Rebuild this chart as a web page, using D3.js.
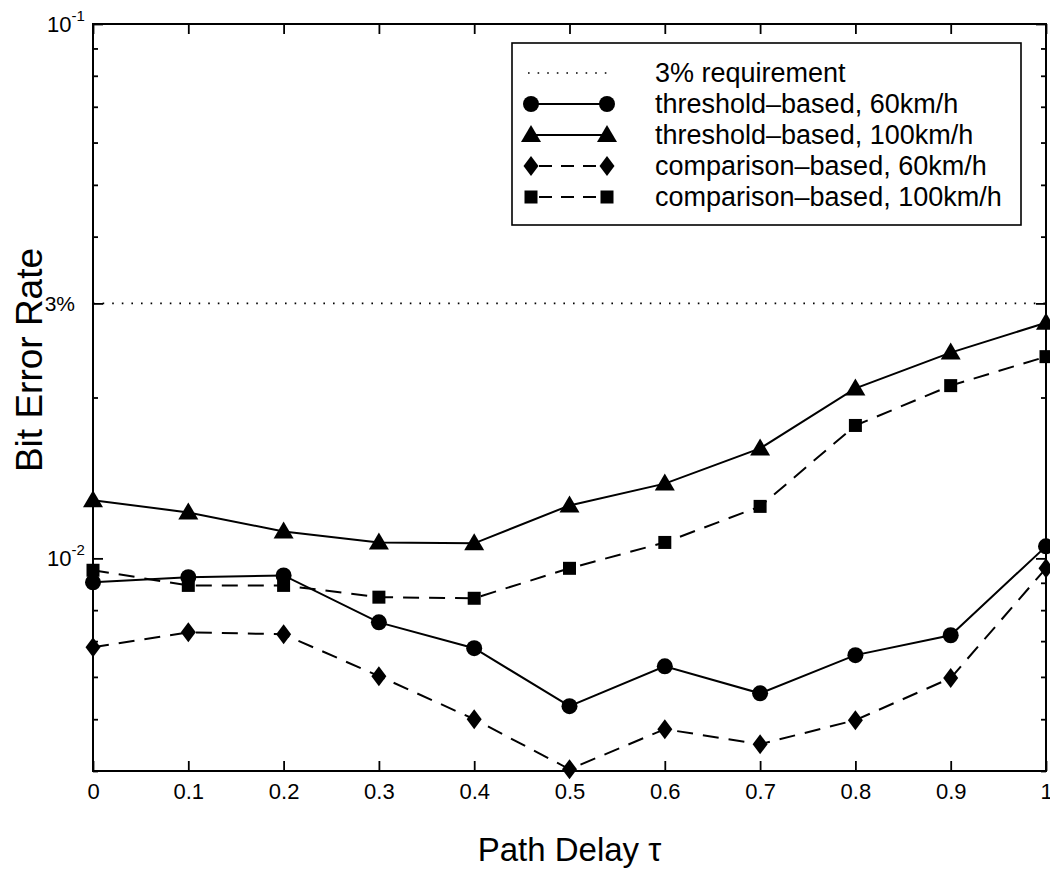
<!DOCTYPE html>
<html>
<head>
<meta charset="utf-8">
<script src="https://cdn.jsdelivr.net/npm/d3@7"></script>
<style>
  html, body { margin: 0; padding: 0; background: #fff; }
  svg { display: block; }
  text { font-family: "Liberation Sans", Arial, Helvetica, sans-serif; fill: #000; }
</style>
</head>
<body>
<svg id="chart" width="1050" height="869"></svg>
<script>
// ---- data ----
const delays = [0, 0.1, 0.2, 0.3, 0.4, 0.5, 0.6, 0.7, 0.8, 0.9, 1.0];
const threshold60  = [0.00902, 0.00922, 0.00929, 0.00759, 0.00679, 0.00529, 0.00628, 0.00559, 0.00659, 0.00718, 0.01053];
const threshold100 = [0.01285, 0.01219, 0.01123, 0.01071, 0.01067, 0.01256, 0.01380, 0.01606, 0.02080, 0.02427, 0.02760];
const comparison60 = [0.00682, 0.00727, 0.00721, 0.00602, 0.00500, 0.00403, 0.00479, 0.00449, 0.00498, 0.00597, 0.00958];
const comparison100= [0.00950, 0.00890, 0.00890, 0.00846, 0.00842, 0.00958, 0.01071, 0.01251, 0.01773, 0.02105, 0.02385];
const requirement = 0.03;
const xTicks = [0, 0.1, 0.2, 0.3, 0.4, 0.5, 0.6, 0.7, 0.8, 0.9, 1];
const xTickLabels = ["0", "0.1", "0.2", "0.3", "0.4", "0.5", "0.6", "0.7", "0.8", "0.9", "1"];
const yMinorTicks = [0.004, 0.005, 0.006, 0.007, 0.008, 0.009, 0.02, 0.04, 0.05, 0.06, 0.07, 0.08, 0.09];
const yMajorTicks = [0.01, 0.03, 0.1];
const legendLabels = ["3% requirement", "threshold\u2013based, 60km/h", "threshold\u2013based, 100km/h",
                      "comparison\u2013based, 60km/h", "comparison\u2013based, 100km/h"];

const series = [
  { name: legendLabels[1], values: threshold60,   marker: "circle",   dash: null },
  { name: legendLabels[2], values: threshold100,  marker: "triangle", dash: null },
  { name: legendLabels[3], values: comparison60,  marker: "diamond",  dash: "16,10" },
  { name: legendLabels[4], values: comparison100, marker: "square",   dash: "16,10" }
];

// ---- layout ----
const svg = d3.select("#chart");
const L = 93, R = 1046, T = 24, B = 771;
const x = d3.scaleLinear().domain([0, 1]).range([L, R]);
const y = d3.scaleLog().domain([0.004, 0.1]).range([B, T]);

// requirement dotted line
svg.append("line")
  .attr("x1", x(0)).attr("x2", x(1))
  .attr("y1", y(requirement)).attr("y2", y(requirement))
  .attr("stroke", "#000").attr("stroke-width", 1.6)
  .attr("stroke-dasharray", "1.6,8");

// axes (box with inner ticks)
const g = svg.append("g");
g.append("g").attr("transform", `translate(0,${B})`)
  .call(d3.axisBottom(x).tickValues(xTicks).tickSize(-10).tickFormat((d, i) => xTickLabels[i]).tickPadding(12));
g.append("g").attr("transform", `translate(0,${T})`)
  .call(d3.axisTop(x).tickValues(xTicks).tickSize(-10).tickFormat(""));
g.append("g").attr("transform", `translate(${L},0)`)
  .call(d3.axisLeft(y).tickValues(yMajorTicks).tickSize(-10).tickFormat(""));
g.append("g").attr("transform", `translate(${L},0)`)
  .call(d3.axisLeft(y).tickValues(yMinorTicks).tickSize(-5).tickFormat(""));
g.append("g").attr("transform", `translate(${R},0)`)
  .call(d3.axisRight(y).tickValues(yMajorTicks).tickSize(-10).tickFormat(""));
g.append("g").attr("transform", `translate(${R},0)`)
  .call(d3.axisRight(y).tickValues(yMinorTicks).tickSize(-5).tickFormat(""));
g.selectAll(".domain").remove();
g.selectAll(".tick line").attr("stroke", "#000").attr("stroke-width", 1.8);
g.selectAll(".tick text").attr("font-size", 22).attr("font-family", "Liberation Sans, Arial, sans-serif");

svg.append("rect").attr("x", L).attr("y", T).attr("width", R - L).attr("height", B - T)
  .attr("fill", "none").attr("stroke", "#000").attr("stroke-width", 2);

// y tick labels
function powLabel(v, exp) {
  const t = svg.append("text").attr("x", 47).attr("y", y(v) + 8).attr("text-anchor", "start").attr("font-size", 22);
  t.append("tspan").text("10");
  t.append("tspan").attr("font-size", 15).attr("dy", -11).text("-" + exp);
}
powLabel(0.1, "1");
powLabel(0.01, "2");
svg.append("text").attr("x", 75).attr("y", y(requirement) + 8).attr("text-anchor", "end")
  .attr("font-size", 21).text("3%");

// axis titles
svg.append("text").attr("x", (L + R) / 2).attr("y", 861).attr("text-anchor", "middle")
  .attr("font-size", 33).text("Path Delay \u03c4");
svg.append("text").attr("transform", `translate(42,360) rotate(-90)`)
  .attr("text-anchor", "middle").attr("font-size", 37).text("Bit Error Rate");

// markers
function drawMarker(sel, type) {
  if (type === "circle") sel.append("circle").attr("r", 8);
  else if (type === "triangle") sel.append("path").attr("d", "M0,-10L10,7L-10,7Z");
  else if (type === "diamond") sel.append("path").attr("d", "M0,-10L7.5,0L0,10L-7.5,0Z");
  else if (type === "square") sel.append("rect").attr("x", -6.5).attr("y", -6.5).attr("width", 13).attr("height", 13);
  sel.selectAll("*").attr("fill", "#000");
}

const line = d3.line().x((d, i) => x(delays[i])).y(d => y(d));
series.forEach(s => {
  svg.append("path").datum(s.values).attr("d", line)
    .attr("fill", "none").attr("stroke", "#000").attr("stroke-width", 2)
    .attr("stroke-dasharray", s.dash);
  s.values.forEach((v, i) => {
    const m = svg.append("g").attr("transform", `translate(${x(delays[i])},${y(v)})`);
    drawMarker(m, s.marker);
  });
});

// legend
const lg = svg.append("g");
lg.append("rect").attr("x", 512).attr("y", 43).attr("width", 509).attr("height", 182)
  .attr("fill", "#fff").attr("stroke", "#000").attr("stroke-width", 1.6);
const rowY = i => 73 + i * 31;
const sx1 = 531, sx2 = 607, tx = 655;
lg.append("line").attr("x1", 528).attr("x2", 608).attr("y1", rowY(0)).attr("y2", rowY(0))
  .attr("stroke", "#000").attr("stroke-width", 1.6).attr("stroke-dasharray", "1.6,8");
lg.append("text").attr("x", tx).attr("y", rowY(0) + 9).attr("font-size", 27).text(legendLabels[0]);
series.forEach((s, k) => {
  const yy = rowY(k + 1);
  lg.append("line").attr("x1", sx1).attr("x2", sx2).attr("y1", yy).attr("y2", yy)
    .attr("stroke", "#000").attr("stroke-width", 2)
    .attr("stroke-dasharray", s.dash ? "13,9" : null).attr("stroke-dashoffset", s.dash ? -8 : 0);
  [sx1, sx2].forEach(px => {
    const m = lg.append("g").attr("transform", `translate(${px},${yy})`);
    drawMarker(m, s.marker);
  });
  lg.append("text").attr("x", tx).attr("y", yy + 9).attr("font-size", 27).text(s.name);
});
</script>
</body>
</html>
